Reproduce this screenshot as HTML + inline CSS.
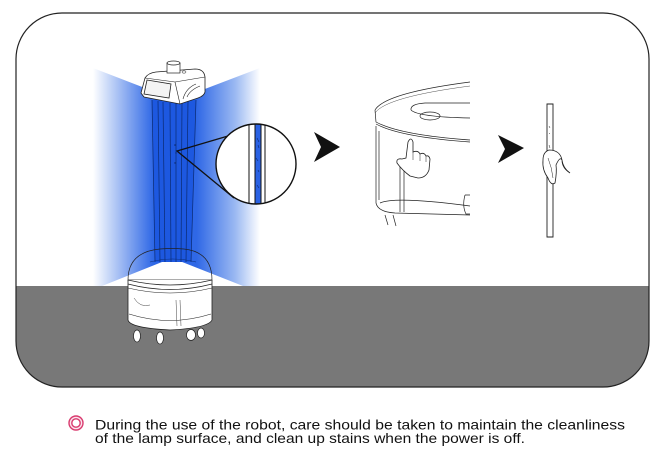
<!DOCTYPE html>
<html><head><meta charset="utf-8"><style>
html,body{margin:0;padding:0;background:#fff;}
svg{display:block;}
</style></head><body>
<svg width="664" height="461" viewBox="0 0 664 461" xmlns="http://www.w3.org/2000/svg">
<defs>
<clipPath id="frame"><rect x="16" y="13" width="633" height="374" rx="46" ry="46"/></clipPath>
<linearGradient id="lite" x1="93" y1="0" x2="260" y2="0" gradientUnits="userSpaceOnUse">
<stop offset="0" stop-color="#ffffff"/>
<stop offset="0.12" stop-color="#b9cdf6"/>
<stop offset="0.36" stop-color="#2f68e6"/>
<stop offset="0.62" stop-color="#2f68e6"/>
<stop offset="0.85" stop-color="#9ab8f2"/>
<stop offset="1" stop-color="#ffffff"/>
</linearGradient>
<clipPath id="circ"><circle cx="256" cy="164" r="40"/></clipPath>
</defs>

<!-- frame background -->
<rect x="16" y="13" width="633" height="374" rx="46" ry="46" fill="#fff"/>
<g clip-path="url(#frame)">
  <rect x="0" y="286" width="664" height="110" fill="#787878"/>
</g>
<rect x="16" y="13" width="633" height="374" rx="46" ry="46" fill="none" stroke="#222" stroke-width="1.2"/>

<!-- blue light -->
<polygon points="93,68 176,100 260,68 260,286 243,286 172,258 102,286 93,286" fill="url(#lite)"/>

<!-- column -->
<polygon points="152,100 196,100 191,262 155,262" fill="#1d58e0"/>
<g stroke="#0b2a70" stroke-width="0.7" fill="none">
  <line x1="152" y1="100" x2="155" y2="262"/>
  <line x1="158" y1="101" x2="160" y2="262"/>
  <line x1="163" y1="102" x2="165" y2="262"/>
  <line x1="170" y1="103" x2="171" y2="262"/>
  <line x1="176" y1="103" x2="176" y2="262"/>
  <line x1="182" y1="102" x2="181" y2="262"/>
  <line x1="188" y1="101" x2="186" y2="262"/>
  <line x1="196" y1="100" x2="191" y2="262"/>
</g>
<g fill="#0b2a70"><circle cx="175" cy="145" r="0.8"/><circle cx="176" cy="153" r="0.7"/><circle cx="175" cy="163" r="0.7"/></g>

<!-- head -->
<path d="M141,93 L145,78 Q148,73 156,72 L195,69 Q204,69 205,77 L205,92 Q204,96 198,98 L180,104 L144,97 Z" fill="#fff" stroke="#222" stroke-width="0.8"/>
<path d="M145,78 L175,82 L180,104" fill="none" stroke="#222" stroke-width="0.6"/>
<path d="M175,82 L205,77" fill="none" stroke="#222" stroke-width="0.6"/>
<polygon points="147,80 171,84 169,98 144,94" fill="#f4f4f4" stroke="#222" stroke-width="0.8"/>
<path d="M183,99 Q186,88 196,84" fill="none" stroke="#222" stroke-width="0.6"/>
<path d="M187,97 Q190,90 200,86" fill="none" stroke="#222" stroke-width="0.6"/>
<rect x="167" y="63" width="13" height="10" fill="#fff" stroke="#222" stroke-width="0.7"/>
<ellipse cx="173.5" cy="63" rx="6.5" ry="2" fill="#fff" stroke="#222" stroke-width="0.7"/>
<ellipse cx="184" cy="72" rx="2" ry="1.2" fill="none" stroke="#222" stroke-width="0.5"/>

<!-- base -->
<path d="M128,280 Q128,252 160,249 Q172,248 184,249 Q212,252 212,280 Z" fill="none" stroke="#222" stroke-width="0.7"/>
<path d="M150,262 Q172,256 196,262" fill="none" stroke="#0b2a70" stroke-width="0.6"/>
<path d="M128,280 L128,320 Q130,328 170,330 Q208,328 212,320 L212,280" fill="#fff" stroke="#222" stroke-width="0.8"/>
<path d="M128,280 Q170,290 212,280" fill="none" stroke="#222" stroke-width="0.8"/>
<path d="M128,284 Q170,295 212,284" fill="none" stroke="#222" stroke-width="0.8"/>
<path d="M128,288 Q170,298 212,288" fill="none" stroke="#222" stroke-width="0.5"/>
<path d="M129,314 Q170,327 211,314" fill="none" stroke="#222" stroke-width="0.6"/>
<path d="M134,298 Q140,308 150,305" fill="none" stroke="#444" stroke-width="0.5"/>
<path d="M176,300 L177,326 M180,300 L181,326" fill="none" stroke="#444" stroke-width="0.5"/>
<g fill="#fff" stroke="#222" stroke-width="0.7">
  <ellipse cx="137" cy="336" rx="3.5" ry="6"/>
  <ellipse cx="160" cy="338" rx="3.5" ry="6"/>
  <ellipse cx="191" cy="335" rx="4.5" ry="5.5"/>
  <ellipse cx="201" cy="333" rx="3.5" ry="5"/>
</g>

<!-- callout -->
<polyline points="228,136 177,151 234,198" fill="none" stroke="#111" stroke-width="1.3"/>
<circle cx="256" cy="164" r="40" fill="#fff"/>
<g clip-path="url(#circ)">
  <rect x="255" y="120" width="6" height="90" fill="#2a62e4"/>
  <g stroke="#111" stroke-width="1" fill="none">
    <line x1="249" y1="120" x2="249" y2="210"/>
    <line x1="255" y1="120" x2="255" y2="210"/>
    <line x1="261" y1="120" x2="261" y2="210"/>
    <line x1="265" y1="120" x2="265" y2="210"/>
  </g>
  <g stroke="#0b2a70" stroke-width="0.6" fill="none">
    <path d="M257,138 l2,4 M258,145 l1,3 M256,158 l2,3 M258,170 l1,2 M257,185 l2,3"/>
  </g>
</g>
<circle cx="256" cy="164" r="40" fill="none" stroke="#111" stroke-width="1.4"/>

<!-- arrows -->
<polygon points="314,132 340,147 314,162 321,147" fill="#111"/>
<polygon points="498,135 524,148 498,163 505,149" fill="#111"/>

<!-- right robot detail -->
<g fill="none" stroke="#222" stroke-width="0.7">
  <path d="M375,110 Q385,93 470,82"/>
  <path d="M375,113 Q386,97 470,86" stroke-width="0.4"/>
  <path d="M375,110 L376,122 Q400,135 470,140"/>
  <path d="M376,124 Q400,137 470,142"/>
  <path d="M376,126 L376,203 Q378,212 395,213 L470,215"/>
  <path d="M379,131 L379,200"/>
  <path d="M411,110 Q410,104 425,103 L470,103 M411,110 Q418,117 470,118"/>
  <ellipse cx="430" cy="116" rx="10" ry="4"/>
  <path d="M380,203 Q395,196 470,206"/>
  <path d="M400,160 L400,212 M404,160 L404,212"/>
  <path d="M465,195 Q462,206 466,214 L470,214 M465,195 L470,195"/>
  <path d="M385,215 L388,225 M393,215 L396,226"/>
</g>
<path d="M406,158 L408,142 Q411,136 413,142 L413,152 Q418,150 420,154 Q424,152 426,156 Q429,155 430,159 L429,170 Q426,178 418,178 L410,176 Q402,170 397,163 Q396,158 402,159 Z" fill="#fff" stroke="#222" stroke-width="0.8"/>
<path d="M413,152 L413,160 M420,154 L420,161 M426,156 L426,162" fill="none" stroke="#222" stroke-width="0.5"/>

<!-- stick -->
<polygon points="547,104 553,104 553,237 547,237" fill="#fff" stroke="#222" stroke-width="0.9"/>
<path d="M549,126 l1,2 M549,133 l1,1 M549,145 l1,3" stroke="#222" stroke-width="0.5" fill="none"/>
<path d="M549,150 Q543,152 543,160 Q542,170 548,178 Q551,186 555,183 Q557,172 556,165 Q560,156 562,160 Q563,168 570,173 Q562,168 562,160 Q560,150 549,150 Z" fill="#fff" stroke="#222" stroke-width="0.8"/>
<path d="M548,158 Q552,168 553,178" fill="none" stroke="#222" stroke-width="0.5"/>

<!-- note -->
<circle cx="76" cy="423" r="7" fill="#fbe3ec" stroke="#d93a6e" stroke-width="1.4"/>
<circle cx="76" cy="423" r="4.2" fill="#fff" stroke="#d93a6e" stroke-width="1.4"/>
<text x="95" y="429.5" font-family="Liberation Sans, sans-serif" font-size="13.8" fill="#111" textLength="530" lengthAdjust="spacingAndGlyphs">During the use of the robot, care should be taken to maintain the cleanliness</text>
<text x="95" y="443" font-family="Liberation Sans, sans-serif" font-size="13.8" fill="#111" textLength="430" lengthAdjust="spacingAndGlyphs">of the lamp surface, and clean up stains when the power is off.</text>
</svg>
</body></html>
